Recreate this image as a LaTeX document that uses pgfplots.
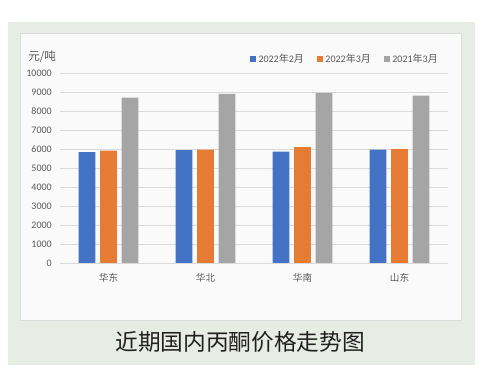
\documentclass[border=0pt]{standalone}
\usepackage{fontspec}
\setmainfont{Carlito}
\newfontfamily\cjk{Noto Sans CJK SC}
\usepackage{pgfplots}
\pgfplotsset{compat=1.18}
\definecolor{cblue}{HTML}{4472C4}
\definecolor{corange}{HTML}{E67C33}
\definecolor{cgray}{HTML}{A5A5A5}
\definecolor{bggreen}{HTML}{E7ECE5}
\definecolor{txtgray}{HTML}{595959}
\definecolor{gridgray}{HTML}{D9D9D9}
\definecolor{panelborder}{HTML}{DCDCDC}
\definecolor{captxt}{HTML}{231F20}
\pgfplotsset{sq legend/.style={/pgfplots/legend image code/.code={\fill[##1,draw=none] (0pt,-2pt) rectangle (4.2pt,2.2pt);}}}
\begin{document}
\begin{tikzpicture}
\fill[white] (0pt,0pt) rectangle (369pt,279.75pt);
\fill[bggreen] (6pt,6pt) rectangle (356.25pt,263.25pt);
\filldraw[fill=white!98!black, draw=panelborder, line width=0.6pt] (15pt,39.75pt) rectangle (345.75pt,255pt);
\begin{axis}[
  at={(45pt,82.5pt)}, anchor=south west,
  scale only axis, width=291pt, height=142.3pt,
  ymin=0, ymax=10000, ytick distance=1000,
  xmin=-0.5, xmax=3.5, xtick={0,1,2,3},
  xticklabels={华东,华北,华南,山东},
  ybar, bar width=0.175,
  ymajorgrids, grid style={gridgray, line width=0.6pt},
  axis line style={draw=none}, major tick length=0pt,
  tick label style={font=\fontsize{7.5}{9}\selectfont, text=txtgray},
  xticklabel style={font=\cjk\fontsize{7.2}{9}\selectfont, anchor=center, yshift=-11pt},
  yticklabel style={anchor=east, inner sep=0pt, xshift=-6pt},
  /pgf/number format/assume math mode=true,
  scaled y ticks=false, yticklabel style={/pgf/number format/1000 sep={}},
  ylabel={\cjk 元/吨},
  ylabel style={rotate=-90, at={(axis description cs:-0.0825,1.086)}, anchor=west, inner sep=0pt, font=\fontsize{8.7}{10}\selectfont, text=txtgray},
  legend style={at={(axis description cs:0.4897,1.075)}, anchor=west, draw=none, fill=none,
    font=\fontsize{7.5}{9}\selectfont, text=txtgray, inner sep=0pt,
    /tikz/every even column/.append style={column sep=8pt}},
  legend columns=3,
]
\addplot[fill=cblue, draw=none, bar shift=-0.2216, sq legend] coordinates {(0,5840) (1,5945) (2,5875) (3,5980)};
\addlegendentry{2022{\cjk 年}2{\cjk 月}}
\addplot[fill=corange, draw=none, bar shift=0, sq legend] coordinates {(0,5925) (1,5980) (2,6105) (3,6000)};
\addlegendentry{2022{\cjk 年}3{\cjk 月}}
\addplot[fill=cgray, draw=none, bar shift=0.2216, sq legend] coordinates {(0,8720) (1,8910) (2,8965) (3,8825)};
\addlegendentry{2021{\cjk 年}3{\cjk 月}}
\end{axis}
\node[font=\cjk\fontsize{17}{17}\selectfont, text=captxt] at (180pt,23.25pt) {近期国内丙酮价格走势图};
\end{tikzpicture}
\end{document}
